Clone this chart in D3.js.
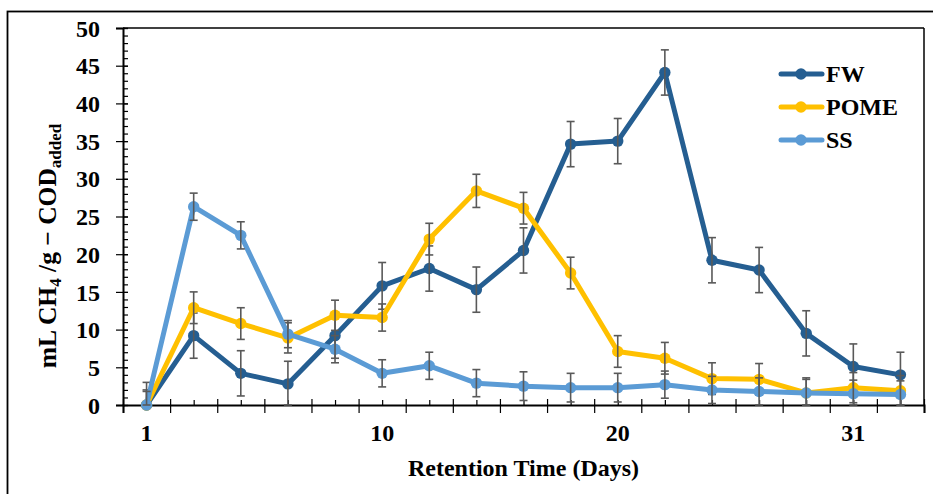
<!DOCTYPE html>
<html>
<head>
<meta charset="utf-8">
<script src="https://cdn.jsdelivr.net/npm/d3@7"></script>
<style>
  body { margin: 0; background: #fff; }
  svg { display: block; }
  text { font-family: "Liberation Serif", "Times New Roman", serif; font-weight: bold; fill: #000; }
</style>
</head>
<body>
<svg id="chart" width="933" height="494"></svg>
<script>
// ---- data ----
const days = ["1", "2", "4", "6", "8", "10", "12", "14", "16", "18", "20", "22", "24", "26", "28", "31", "33"];
const shownLabels = ["1", "10", "20", "31"];
const seriesNames = ["FW", "POME", "SS"];
const fwValues   = [0, 9.2, 4.2, 2.8, 9.2, 15.8, 18.1, 15.3, 20.5, 34.6, 35.0, 44.1, 19.2, 17.9, 9.5, 5.1, 4.0];
const pomeValues = [0, 12.9, 10.8, 8.9, 11.9, 11.6, 22.0, 28.4, 26.1, 17.5, 7.1, 6.2, 3.5, 3.4, 1.6, 2.3, 1.9];
const ssValues   = [0, 26.3, 22.5, 9.4, 7.4, 4.2, 5.2, 2.9, 2.5, 2.3, 2.3, 2.7, 2.0, 1.8, 1.6, 1.5, 1.4];
const fwErr   = [3.0, 3.0, 3.0, 3.0, 3.0, 3.1, 3.0, 3.0, 3.0, 3.0, 3.0, 3.0, 3.0, 3.0, 3.0, 3.0, 3.0];
const pomeErr = [2.0, 2.1, 2.1, 2.0, 2.0, 1.8, 2.1, 2.2, 2.1, 2.1, 2.1, 2.1, 2.1, 2.1, 2.0, 2.0, 2.0];
const ssErr   = [1.8, 1.8, 1.8, 1.8, 1.8, 1.8, 1.8, 1.8, 1.9, 1.9, 1.9, 1.8, 1.8, 1.8, 1.8, 1.8, 1.8];
const yTicks = [0, 5, 10, 15, 20, 25, 30, 35, 40, 45, 50];
const colors = ["#255E91", "#FFC000", "#5B9BD5"];

const series = [
  { name: seriesNames[0], values: fwValues, err: fwErr, color: colors[0] },
  { name: seriesNames[1], values: pomeValues, err: pomeErr, color: colors[1] },
  { name: seriesNames[2], values: ssValues, err: ssErr, color: colors[2] }
];

const svg = d3.select("#chart");
const L = 123, R = 924, T = 28, B = 405;
const FS = 24;

// outer border
svg.append("rect").attr("x", 7.5).attr("y", 11.5).attr("width", 960).attr("height", 520)
  .attr("fill", "none").attr("stroke", "#000").attr("stroke-width", 1.8);

const x = d3.scaleLinear().domain([0, days.length]).range([L, R]);
const y = d3.scaleLinear().domain([0, 50]).range([B, T]);
const cx = i => x(i + 0.5);

// plot box top/right
svg.append("line").attr("x1", L).attr("x2", R).attr("y1", T).attr("y2", T).attr("stroke", "#000").attr("stroke-width", 1.5);
svg.append("line").attr("x1", R).attr("x2", R).attr("y1", T).attr("y2", B).attr("stroke", "#000").attr("stroke-width", 1.5);

// y axis minor ticks (inside)
const yMinor = svg.append("g").attr("transform", `translate(${L},0)`)
  .call(d3.axisRight(y).tickValues(d3.range(0, 51, 1)).tickSize(5).tickFormat(""));
yMinor.select(".domain").remove();
yMinor.selectAll("line").attr("stroke", "#000").attr("stroke-width", 1.2);

// y axis major
const yAxis = svg.append("g").attr("transform", `translate(${L},0)`)
  .call(d3.axisLeft(y).tickValues(yTicks).tickSize(7).tickPadding(16));
yAxis.select(".domain").attr("stroke", "#000").attr("stroke-width", 2);
yAxis.selectAll(".tick line").attr("x1", 5).attr("stroke", "#000").attr("stroke-width", 1.2);
yAxis.selectAll("text").attr("font-size", FS).attr("dy", "0.34em")
  .style("font-family", "Liberation Serif").style("font-weight", "bold").attr("fill", "#000");

// x axis minor ticks (at category centers, inside)
const xMinor = svg.append("g").attr("transform", `translate(0,${B})`)
  .call(d3.axisTop(x).tickValues(d3.range(0, days.length).map(i => i + 0.5)).tickSize(5).tickFormat(""));
xMinor.select(".domain").remove();
xMinor.selectAll("line").attr("stroke", "#000").attr("stroke-width", 1.2);

// x axis major ticks at category boundaries (crossing)
const xAxis = svg.append("g").attr("transform", `translate(0,${B})`)
  .call(d3.axisBottom(x).tickValues(d3.range(0, days.length + 1)).tickSize(8).tickFormat(""));
xAxis.select(".domain").attr("stroke", "#000").attr("stroke-width", 2);
xAxis.selectAll(".tick line").attr("y1", -6).attr("stroke", "#000").attr("stroke-width", 1.2);

// x labels
const labelIdx = days.map((d, i) => i).filter(i => shownLabels.includes(days[i]));
svg.append("g").selectAll("text").data(labelIdx).join("text")
  .attr("x", i => cx(i)).attr("y", 441).attr("text-anchor", "middle").attr("font-size", FS)
  .text(i => days[i]);

// axis titles
svg.append("text").attr("x", (L + R) / 2).attr("y", 476).attr("text-anchor", "middle")
  .attr("font-size", FS).text("Retention Time (Days)");

const yt = svg.append("text").attr("transform", "translate(56,246) rotate(-90)")
  .attr("text-anchor", "middle").attr("font-size", 25.5);
yt.append("tspan").text("mL CH");
yt.append("tspan").attr("dy", 5).attr("font-size", 17).text("4");
yt.append("tspan").attr("dy", -5).text(" /g − COD");
yt.append("tspan").attr("dy", 5).attr("font-size", 17).text("added");

// series
const line = d3.line().x((d, i) => cx(i)).y(d => y(d));
series.forEach(s => {
  const g = svg.append("g");
  g.append("path").datum(s.values).attr("d", line).attr("fill", "none")
    .attr("stroke", s.color).attr("stroke-width", 5).attr("stroke-linejoin", "round");
  g.selectAll("circle").data(s.values).join("circle")
    .attr("cx", (d, i) => cx(i)).attr("cy", d => y(d)).attr("r", 5.7).attr("fill", s.color);
  const eb = g.append("g").attr("stroke", "#595959").attr("stroke-width", 1.6);
  s.values.forEach((v, i) => {
    const lo = Math.max(0, v - s.err[i]), hi = v + s.err[i];
    eb.append("line").attr("x1", cx(i)).attr("x2", cx(i)).attr("y1", y(lo)).attr("y2", y(hi));
    eb.append("line").attr("x1", cx(i) - 4).attr("x2", cx(i) + 4).attr("y1", y(hi)).attr("y2", y(hi));
    eb.append("line").attr("x1", cx(i) - 4).attr("x2", cx(i) + 4).attr("y1", y(lo)).attr("y2", y(lo));
  });
});

// legend
const lg = svg.append("g");
series.forEach((s, k) => {
  const ly = 74 + k * 33;
  lg.append("line").attr("x1", 781).attr("x2", 822).attr("y1", ly).attr("y2", ly)
    .attr("stroke", s.color).attr("stroke-width", 5).attr("stroke-linecap", "round");
  lg.append("circle").attr("cx", 801).attr("cy", ly).attr("r", 5.7).attr("fill", s.color);
  lg.append("text").attr("x", 826).attr("y", ly + 8).attr("font-size", FS).text(s.name);
});
</script>
</body>
</html>
